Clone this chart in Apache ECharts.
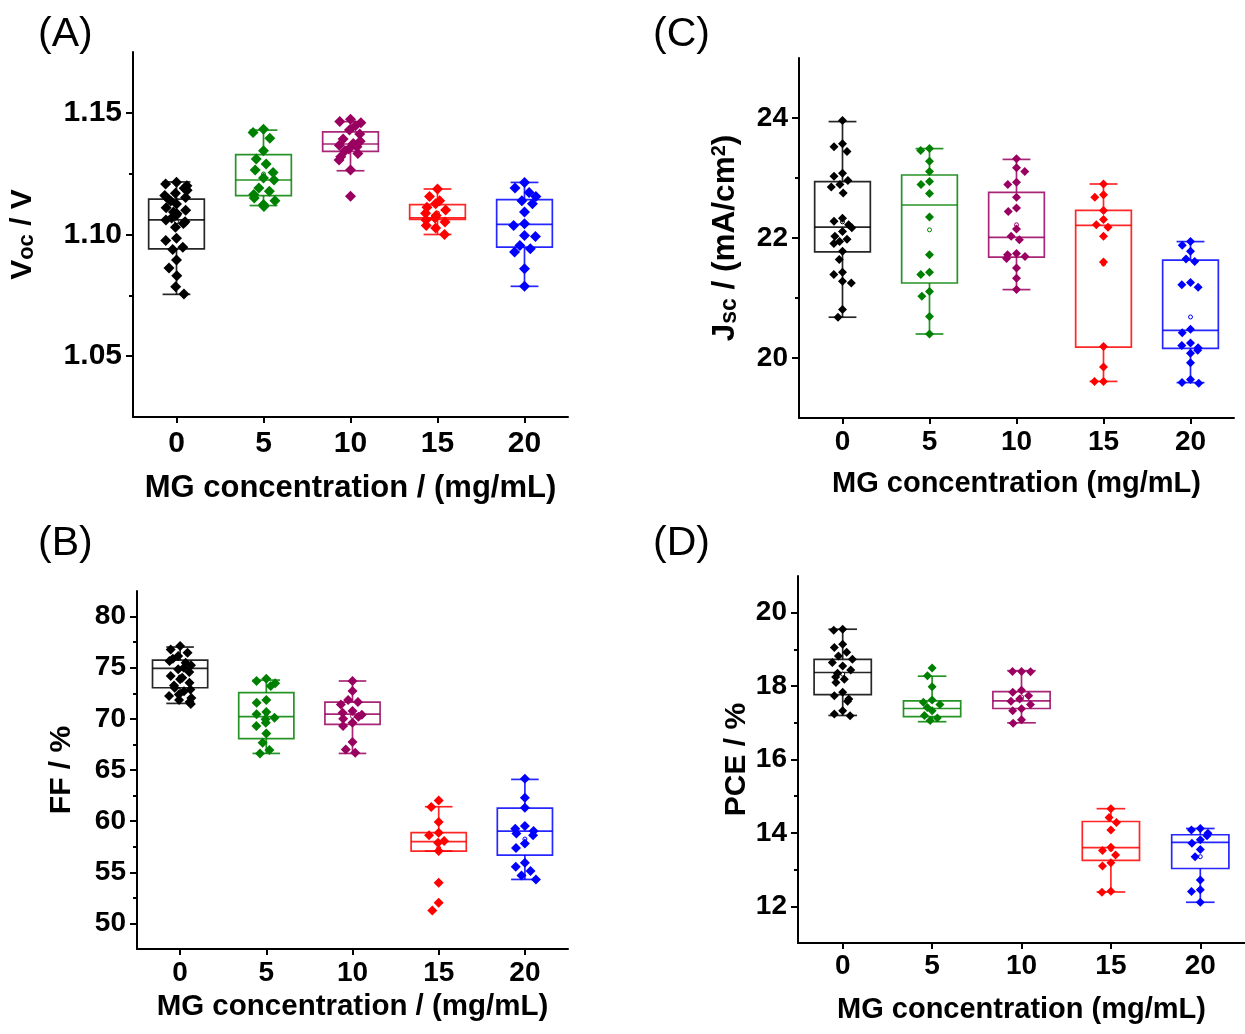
<!DOCTYPE html>
<html>
<head>
<meta charset="utf-8">
<title>MG concentration — device parameters</title>
<script src="https://cdn.jsdelivr.net/npm/echarts@6/dist/echarts.min.js"></script>
<style>
  html, body { margin: 0; padding: 0; background: #fff; }
  #chart { width: 1245px; height: 1034px; }
</style>
</head>
<body>
<div id="chart"></div>
<script>
// MG concentration groups (mg/mL) and their colours
const concentrations = ['0', '5', '10', '15', '20'];
const groupColors = ['#000000', '#008000', '#990060', '#ff0000', '#0000ff'];

// Voc (V): individual devices per group
const vocPoints = [
  [1.1215, 1.1208, 1.1200, 1.1190, 1.1182, 1.1170, 1.1160, 1.1152, 1.1145, 1.1138, 1.1125, 1.1110, 1.1100, 1.1092, 1.1085,
   1.1078, 1.1068, 1.1060, 1.1052, 1.1045, 1.1030, 1.0985, 1.0975, 1.0948, 1.0938, 1.0895, 1.0862, 1.0830, 1.0785, 1.0755],
  [1.1433, 1.1419, 1.1396, 1.1344, 1.1310, 1.1290, 1.1265, 1.1255, 1.1232, 1.1224, 1.1191, 1.1178, 1.1164, 1.1150, 1.1139, 1.1123, 1.1115],
  [1.1474, 1.1464, 1.1459, 1.1447, 1.1429, 1.1413, 1.1392, 1.1383, 1.1374, 1.1367, 1.1361, 1.1351, 1.1344, 1.1333, 1.1320, 1.1306, 1.1265, 1.1157],
  [1.1187, 1.1156, 1.1139, 1.1126, 1.1112, 1.1101, 1.1087, 1.1078, 1.1068, 1.1060, 1.1051, 1.1037, 1.1027, 1.1000],
  [1.1214, 1.1191, 1.1173, 1.1156, 1.1139, 1.1126, 1.1092, 1.1044, 1.1037, 1.0996, 1.0992, 1.0955, 1.0941, 1.0928, 1.0859, 1.0787]
];
// box statistics per group: [whisker low, Q1, median, Q3, whisker high]
const vocBoxes = [
  [1.0754, 1.0941, 1.1060, 1.1145, 1.1216],
  [1.1119, 1.1160, 1.1224, 1.1328, 1.1429],
  [1.1262, 1.1342, 1.1372, 1.1422, 1.1464],
  [1.1000, 1.1062, 1.1068, 1.1123, 1.1187],
  [1.0787, 1.0948, 1.1042, 1.1143, 1.1214]
];

// FF (%)
const ffPoints = [
  [77.12, 76.79, 76.47, 76.14, 75.88, 75.65, 75.49, 75.23, 75.00, 74.84, 74.58, 74.19, 74.02, 73.86, 73.53, 73.27, 73.04,
   72.88, 72.69, 72.39, 72.23, 72.03, 71.84, 71.64, 71.45],
  [73.92, 73.70, 73.47, 73.21, 71.84, 71.58, 70.67, 70.44, 70.11, 69.95, 69.62, 69.30, 68.58, 67.67, 66.95, 66.62],
  [73.70, 72.72, 71.84, 71.64, 71.41, 70.76, 70.60, 70.40, 70.21, 70.01, 69.62, 69.30, 67.73, 67.01, 66.69],
  [62.03, 61.38, 59.91, 58.87, 58.61, 58.05, 57.89, 57.07, 53.98, 52.02, 51.27],
  [64.15, 62.29, 61.31, 59.52, 59.26, 59.03, 58.80, 58.61, 57.82, 57.37, 55.93, 55.54, 55.12, 54.69, 54.30]
];
const ffBoxes = [
  [71.51, 73.04, 74.93, 75.75, 77.02],
  [66.62, 68.06, 70.21, 72.56, 73.79],
  [66.62, 69.46, 70.47, 71.64, 73.70],
  [57.07, 57.07, 57.99, 58.87, 61.41],
  [54.30, 56.68, 59.03, 61.28, 64.08]
];

// Jsc (mA/cm2)
const jscPoints = [
  [23.96, 23.57, 23.52, 23.44, 23.08, 23.03, 22.96, 22.89, 22.85, 22.75, 22.33, 22.28, 22.22, 22.17, 22.11, 22.03, 21.98,
   21.94, 21.91, 21.78, 21.64, 21.43, 21.39, 21.28, 21.25, 20.81, 20.68],
  [23.49, 23.46, 23.28, 23.11, 22.94, 22.89, 22.74, 22.35, 21.72, 21.43, 21.39, 21.11, 21.03, 20.69, 20.40],
  [23.32, 23.17, 23.11, 22.93, 22.89, 22.68, 22.50, 22.44, 22.15, 22.03, 21.97, 21.74, 21.72, 21.69, 21.66, 21.50, 21.33, 21.14],
  [22.90, 22.72, 22.68, 22.46, 22.31, 22.22, 22.18, 22.03, 21.60, 20.19, 19.85, 19.61, 19.61],
  [21.94, 21.88, 21.78, 21.65, 21.61, 21.26, 21.22, 21.18, 20.48, 20.42, 20.25, 20.21, 20.17, 20.13, 20.08, 19.92, 19.64, 19.59, 19.58]
];
const jscBoxes = [
  [20.68, 21.77, 22.18, 22.94, 23.94],
  [20.40, 21.25, 22.55, 23.05, 23.49],
  [21.14, 21.68, 22.01, 22.76, 23.31],
  [19.61, 20.18, 22.21, 22.46, 22.90],
  [19.59, 20.16, 20.46, 21.63, 21.94]
];

// PCE (%)
const pcePoints = [
  [19.55, 19.52, 19.14, 19.05, 18.92, 18.82, 18.73, 18.64, 18.55, 18.44, 18.35, 18.25, 18.19, 18.10, 17.83, 17.74, 17.65,
   17.59, 17.33, 17.24, 17.19],
  [18.49, 18.28, 17.98, 17.62, 17.56, 17.50, 17.42, 17.33, 17.20, 17.13, 17.06],
  [18.40, 18.39, 18.40, 17.89, 17.83, 17.74, 17.65, 17.59, 17.50, 17.38, 17.33, 17.08, 16.99],
  [14.66, 14.42, 14.28, 14.08, 13.61, 13.52, 13.40, 13.19, 13.10, 12.41, 12.38],
  [14.12, 14.08, 13.99, 13.92, 13.81, 13.72, 13.55, 13.35, 12.72, 12.45, 12.40, 12.11]
];
const pceBoxes = [
  [17.20, 17.77, 18.37, 18.73, 19.55],
  [17.03, 17.17, 17.39, 17.60, 18.27],
  [17.00, 17.39, 17.60, 17.85, 18.42],
  [12.39, 13.25, 13.60, 14.31, 14.66],
  [12.11, 13.03, 13.74, 13.95, 14.12]
];

// y-axis tick values
const vocMajorTicks = [1.05, 1.10, 1.15];
const vocMinorTicks = [1.075, 1.125];
const ffMajorTicks = [50, 55, 60, 65, 70, 75, 80];
const ffMinorTicks = [52.5, 57.5, 62.5, 67.5, 72.5, 77.5];
const jscMajorTicks = [20, 22, 24];
const jscMinorTicks = [21, 23];
const pceMajorTicks = [12, 14, 16, 18, 20];
const pceMinorTicks = [13, 15, 17, 19];

const FONT = '"Liberation Sans", Arial, Helvetica, sans-serif';

const panels = [
  { letter: '(A)', letterPos: [38, 14], points: vocPoints, boxes: vocBoxes,
    grid: { left: 133, top: 52, width: 435, height: 365 },
    min: 1.025, max: 1.175, major: vocMajorTicks, minor: vocMinorTicks, digits: 2,
    yName: '{m|V}{s|oc} / V', yGap: 95, yNameSize: 30,
    xName: 'MG concentration / (mg/mL)', xGap: 56, xNameSize: 31, xLabelMargin: 12, tickFont: 30,
    symbolSize: 11 },
  { letter: '(B)', letterPos: [38, 523], points: ffPoints, boxes: ffBoxes,
    grid: { left: 137, top: 591, width: 431, height: 358 },
    min: 47.5, max: 82.5, major: ffMajorTicks, minor: ffMinorTicks, digits: 0,
    yName: 'FF / %', yGap: 60, yNameSize: 30,
    xName: 'MG concentration / (mg/mL)', xGap: 43, xNameSize: 29.5, xLabelMargin: 10, tickFont: 28,
    symbolSize: 10 },
  { letter: '(C)', letterPos: [653, 14], points: jscPoints, boxes: jscBoxes,
    grid: { left: 799, top: 58, width: 435, height: 360 },
    min: 19, max: 25, major: jscMajorTicks, minor: jscMinorTicks, digits: 0,
    yName: '{m|J}{s|sc} / (mA/cm{p|2})', yGap: 58, yNameSize: 31.5,
    xName: 'MG concentration (mg/mL)', xGap: 51, xNameSize: 29, xLabelMargin: 10, tickFont: 28,
    symbolSize: 9 },
  { letter: '(D)', letterPos: [653, 523], points: pcePoints, boxes: pceBoxes,
    grid: { left: 798, top: 576, width: 447, height: 367 },
    min: 11, max: 21, major: pceMajorTicks, minor: pceMinorTicks, digits: 0,
    yName: 'PCE / %', yGap: 46, yNameSize: 30,
    xName: 'MG concentration (mg/mL)', xGap: 52, xNameSize: 29, xLabelMargin: 9, tickFont: 28,
    symbolSize: 9 }
];

const axisColor = '#000';

function nameRich(size) {
  return {
    m: { fontSize: size, fontWeight: 'bold', fontFamily: FONT, color: '#000', verticalAlign: 'bottom' },
    s: { fontSize: Math.round(size * 0.74), fontWeight: 'bold', fontFamily: FONT, color: '#000', verticalAlign: 'bottom' },
    p: { fontSize: Math.round(size * 0.62), fontWeight: 'bold', fontFamily: FONT, color: '#000', verticalAlign: 'top' }
  };
}

function mean(arr) {
  return arr.reduce((a, b) => a + b, 0) / arr.length;
}

// Origin-style box: Q1..Q3 box, median line, whiskers with half-width caps, mean marker
function renderBox(params, api) {
  const g = api.value(0);
  const band = api.size([1, 0])[0];
  const half = band * 0.32;
  const capHalf = half * 0.5;
  const x = api.coord([g, api.value(1)])[0];
  const yLow = api.coord([g, api.value(1)])[1];
  const yQ1 = api.coord([g, api.value(2)])[1];
  const yMed = api.coord([g, api.value(3)])[1];
  const yQ3 = api.coord([g, api.value(4)])[1];
  const yHigh = api.coord([g, api.value(5)])[1];
  const yMean = api.coord([g, api.value(6)])[1];
  const color = groupColors[g];
  const line = { stroke: color, lineWidth: 1.7, opacity: 0.85 };
  return {
    type: 'group',
    children: [
      { type: 'rect', shape: { x: x - half, y: yQ3, width: half * 2, height: yQ1 - yQ3 },
        style: { stroke: color, lineWidth: 1.7, opacity: 0.85, fill: 'none' } },
      { type: 'line', shape: { x1: x - half, y1: yMed, x2: x + half, y2: yMed }, style: line },
      { type: 'line', shape: { x1: x, y1: yQ3, x2: x, y2: yHigh }, style: line },
      { type: 'line', shape: { x1: x, y1: yQ1, x2: x, y2: yLow }, style: line },
      { type: 'line', shape: { x1: x - capHalf, y1: yHigh, x2: x + capHalf, y2: yHigh }, style: line },
      { type: 'line', shape: { x1: x - capHalf, y1: yLow, x2: x + capHalf, y2: yLow }, style: line },
      { type: 'circle', shape: { cx: x, cy: yMean, r: 2 }, style: { stroke: color, lineWidth: 1, fill: '#fff' } }
    ]
  };
}

const grids = [], xAxes = [], yAxes = [], series = [], graphics = [];

panels.forEach((p, i) => {
  grids.push(Object.assign({ containLabel: false }, p.grid));

  xAxes.push({
    type: 'category', gridIndex: i, data: concentrations, boundaryGap: true,
    jitter: 24, jitterOverlap: false, jitterMargin: 0,
    name: p.xName, nameLocation: 'middle', nameGap: p.xGap,
    nameTextStyle: { fontSize: p.xNameSize, fontWeight: 'bold', fontFamily: FONT, color: '#000' },
    axisLine: { show: true, lineStyle: { color: axisColor, width: 2 } },
    axisTick: { show: true, alignWithLabel: true, length: 6, lineStyle: { color: axisColor, width: 2 } },
    axisLabel: { fontSize: p.tickFont, fontWeight: 'bold', fontFamily: FONT, color: '#000', margin: p.xLabelMargin },
    splitLine: { show: false }
  });

  // main y axis: line, major ticks and labels
  yAxes.push({
    type: 'value', gridIndex: i, min: p.min, max: p.max, position: 'left',
    name: p.yName, nameLocation: 'middle', nameGap: p.yGap, nameRotate: 90,
    nameTextStyle: { fontSize: p.yNameSize, fontWeight: 'bold', fontFamily: FONT, color: '#000', rich: nameRich(p.yNameSize) },
    axisLine: { show: true, lineStyle: { color: axisColor, width: 2 } },
    axisTick: { show: true, length: 7, customValues: p.major, lineStyle: { color: axisColor, width: 2 } },
    axisLabel: { fontSize: p.tickFont, fontWeight: 'bold', fontFamily: FONT, color: '#000', margin: 11,
      customValues: p.major, formatter: v => v.toFixed(p.digits) },
    splitLine: { show: false }
  });
  // companion y axis carrying the minor ticks only
  yAxes.push({
    type: 'value', gridIndex: i, min: p.min, max: p.max, position: 'left',
    axisLine: { show: false },
    axisTick: { show: true, length: 4, customValues: p.minor, lineStyle: { color: axisColor, width: 2 } },
    axisLabel: { show: false },
    splitLine: { show: false }
  });

  const boxData = p.boxes.map((b, g) => [g, b[0], b[1], b[2], b[3], b[4], mean(p.points[g])]);
  series.push({
    type: 'custom', xAxisIndex: i, yAxisIndex: i * 2, z: 1,
    renderItem: renderBox,
    encode: { x: 0, y: [1, 2, 3, 4, 5, 6] },
    data: boxData, silent: true
  });

  p.points.forEach((vals, g) => {
    series.push({
      type: 'scatter', xAxisIndex: i, yAxisIndex: i * 2, z: 3,
      symbol: 'diamond', symbolSize: p.symbolSize,
      itemStyle: { color: groupColors[g], opacity: 1 },
      data: vals.map(v => [g, v]), silent: true
    });
  });

  graphics.push({
    type: 'text', left: p.letterPos[0], top: p.letterPos[1],
    style: { text: p.letter, font: '41px ' + FONT, fill: '#000' }
  });
});

const chart = echarts.init(document.getElementById('chart'), null, { renderer: 'canvas' });
chart.setOption({
  animation: false,
  backgroundColor: '#fff',
  grid: grids,
  xAxis: xAxes,
  yAxis: yAxes,
  series: series,
  graphic: graphics
});
</script>
</body>
</html>
